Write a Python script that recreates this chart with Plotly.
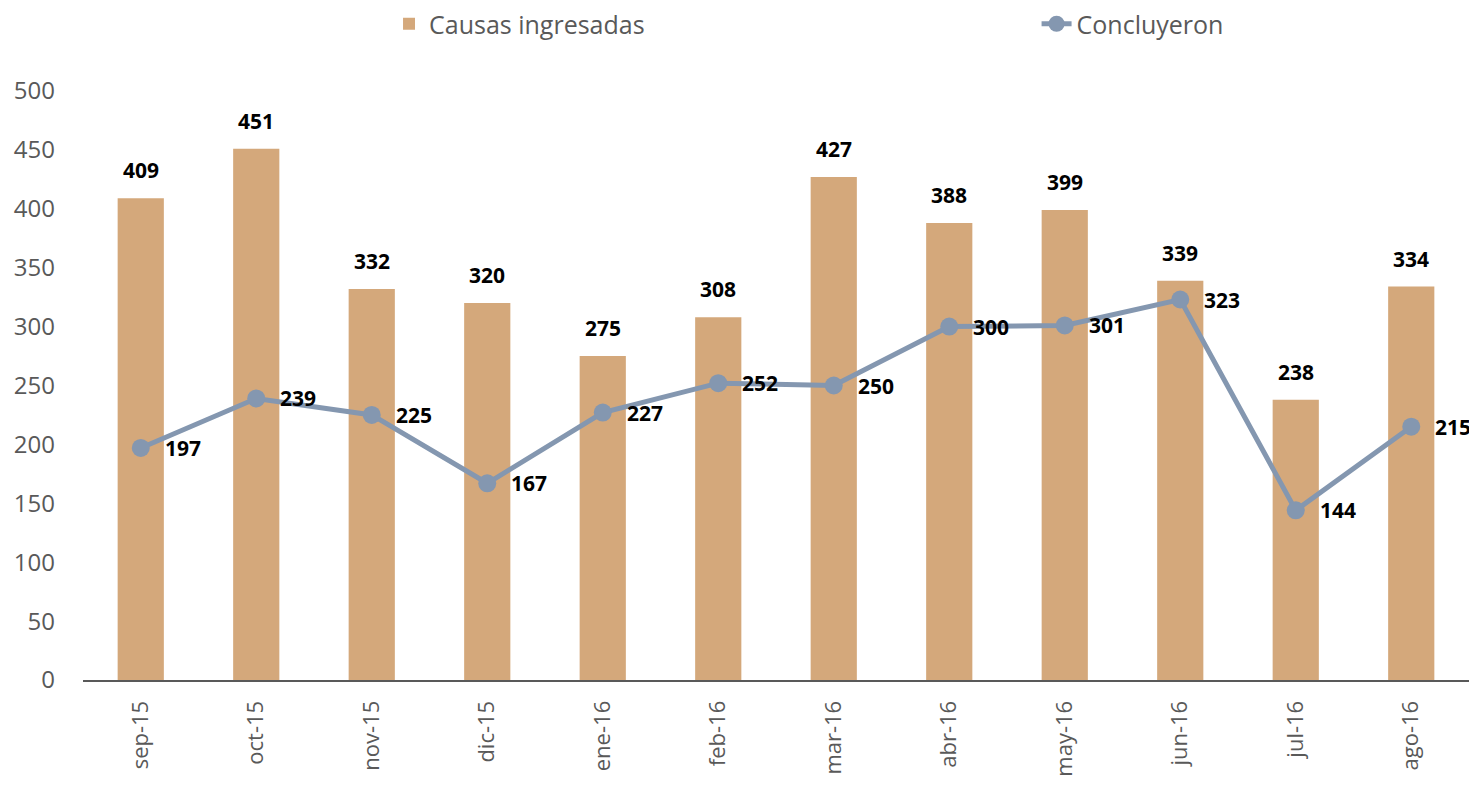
import plotly.graph_objects as go

months = ["sep-15", "oct-15", "nov-15", "dic-15", "ene-16", "feb-16",
          "mar-16", "abr-16", "may-16", "jun-16", "jul-16", "ago-16"]
ingresadas = [409, 451, 332, 320, 275, 308, 427, 388, 399, 339, 238, 334]
concluyeron = [197, 239, 225, 167, 227, 252, 250, 300, 301, 323, 144, 215]
y_ticks = [0, 50, 100, 150, 200, 250, 300, 350, 400, 450, 500]

FONT = "Open Sans"
GRAY = "#595959"
LINE = "#8497B0"

fig = go.Figure()
fig.add_trace(go.Bar(
    x=months, y=ingresadas, name="Causas ingresadas",
    marker=dict(color="#D4A87B", line=dict(width=0)),
    width=0.4, legend="legend",
))
fig.add_trace(go.Scatter(
    x=months, y=concluyeron, name="Concluyeron",
    mode="lines+markers",
    line=dict(color=LINE, width=5),
    marker=dict(color=LINE, size=18),
    cliponaxis=False, legend="legend2",
))

for m, v in zip(months, ingresadas):
    fig.add_annotation(x=m, y=v, text=f"<b>{v}</b>", showarrow=False,
                       yanchor="bottom", yshift=12,
                       font=dict(family=FONT, size=21, color="black"))
for m, v in zip(months, concluyeron):
    fig.add_annotation(x=m, y=v, text=f"<b>{v}</b>", showarrow=False,
                       xanchor="left", yanchor="middle", xshift=22,
                       font=dict(family=FONT, size=21, color="black"))

PLOT_H = 589
leg_common = dict(orientation="h", xanchor="left", yanchor="middle",
                  yref="paper", y=1 + 67 / PLOT_H,
                  font=dict(family=FONT, size=25, color=GRAY),
                  bgcolor="rgba(0,0,0,0)")
fig.update_layout(
    width=1461, height=770,
    margin=dict(l=75, r=0, t=83, b=98, autoexpand=False),
    plot_bgcolor="white", paper_bgcolor="white",
    font=dict(family=FONT, color=GRAY),
    showlegend=True,
    legend=dict(x=0.2208, **leg_common),
    legend2=dict(x=0.688, **leg_common),
    bargap=0.6,
)
fig.update_xaxes(
    range=[-0.5, len(months) - 0.5],
    showline=True, linecolor=GRAY, linewidth=2, automargin=False,
    tickangle=-90, tickfont=dict(family=FONT, size=22, color=GRAY),
    ticks="", showgrid=False, ticklabelstandoff=10,
    ticklabeloverflow="allow",
)
fig.update_yaxes(
    range=[0, 500], tickvals=y_ticks, showgrid=False, zeroline=False,
    automargin=False, ticklabelstandoff=27,
    tickfont=dict(family=FONT, size=24, color=GRAY), ticks="",
)

fig.write_html("out.html")
